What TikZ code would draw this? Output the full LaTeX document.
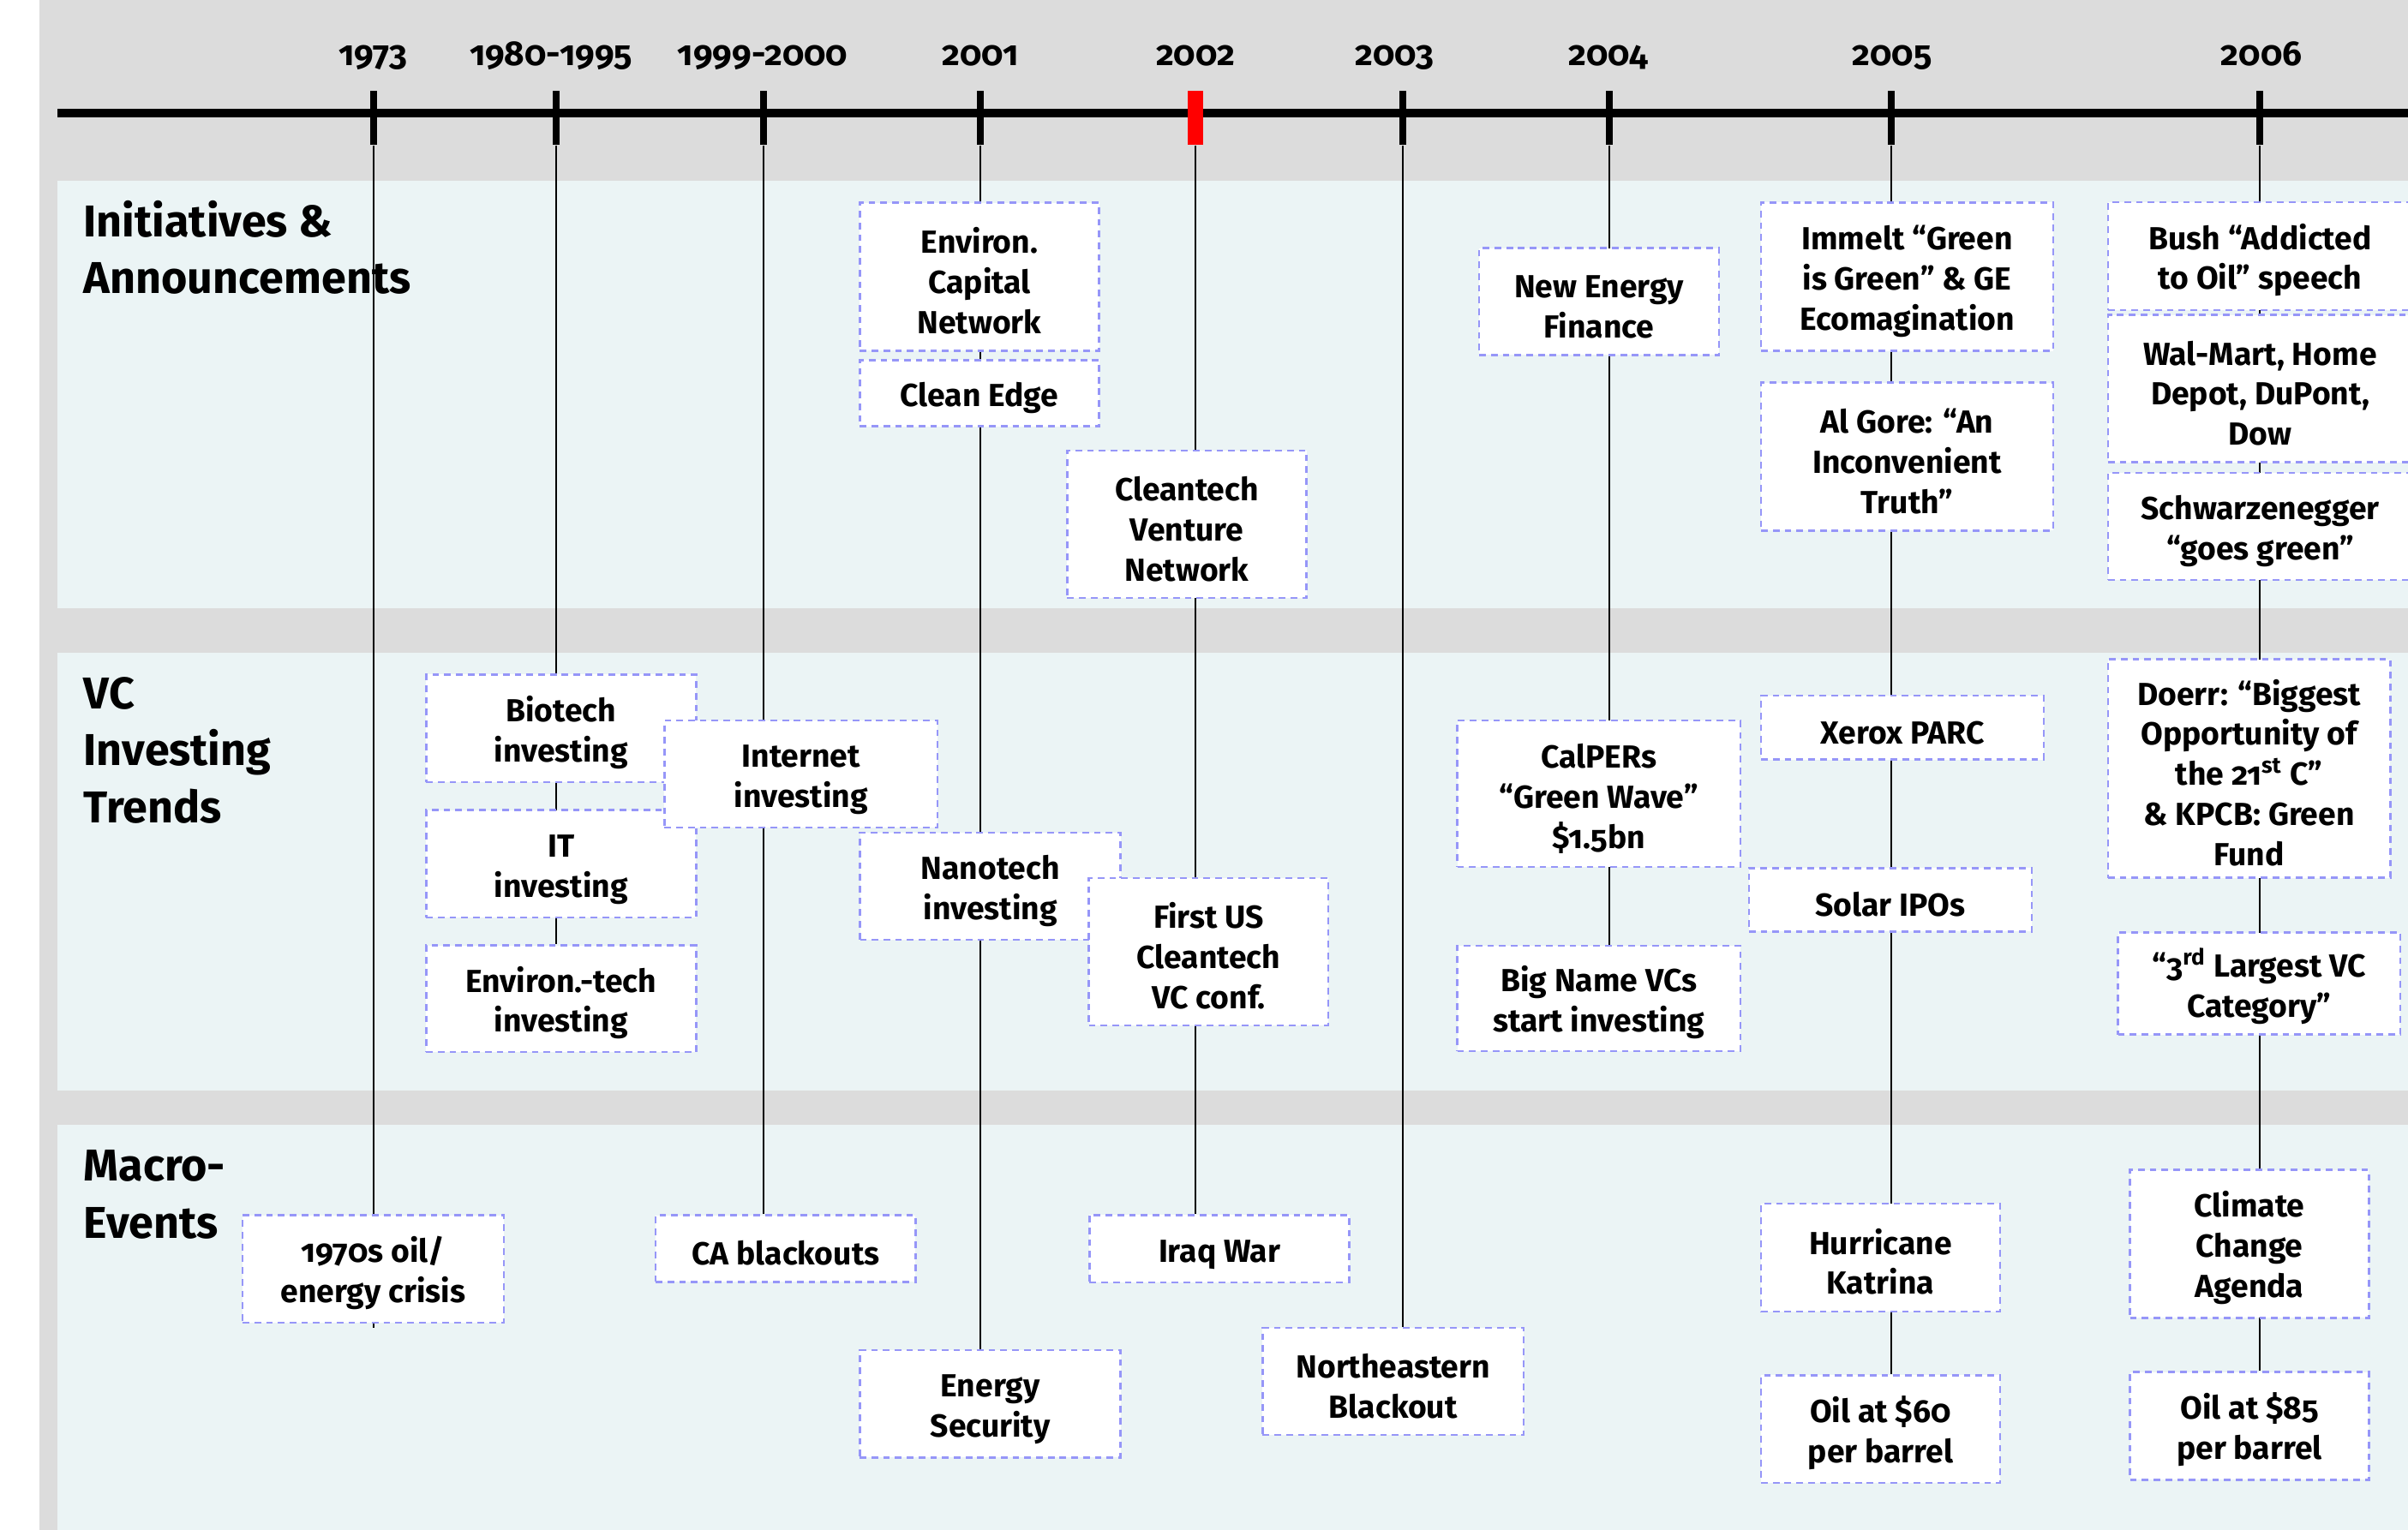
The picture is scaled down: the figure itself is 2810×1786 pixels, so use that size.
\documentclass[tikz,border=0pt]{standalone}
\usepackage{fontspec}
\setmainfont{Fira Sans}[Numbers=OldStyle]
\usetikzlibrary{calc}
\definecolor{bggray}{RGB}{220,220,220}
\definecolor{panelbg}{RGB}{235,244,245}
\definecolor{boxline}{RGB}{150,150,248}
\newcommand\boxstrut{\rule{0pt}{11.2pt}}
\pgfdeclarelayer{back}
\pgfdeclarelayer{links}
\pgfsetlayers{back,links,main}
\begin{document}
\begin{tikzpicture}[x=0.01cm,y=-0.01cm,
  evbox/.style={draw=boxline, fill=white, line width=0.7pt, dash pattern=on 2.2pt off 1.7pt,
    align=center, inner sep=0pt, font=\fontsize{10.6}{13.3}\selectfont\bfseries},
  tickmark/.style={fill=black, inner sep=0pt, minimum width=0.08cm, minimum height=0.63cm},
  redtick/.style={tickmark, fill=red, minimum width=0.185cm},
  conn/.style={line width=0.55pt, black},
  timeline/.style={line width=2.6pt, black},
  yearlbl/.style={font=\fontsize{11.5}{13}\selectfont\bfseries, anchor=base, inner sep=0pt},
  sectlbl/.style={font=\fontsize{14.8}{18.8}\selectfont\bfseries, anchor=base west, align=left, inner sep=0pt}]

\useasboundingbox (0,0) rectangle (2810,1786);
\begin{pgfonlayer}{back}
\fill[white] (0,0) rectangle (2810,1786);
\fill[bggray] (46,0) rectangle (2810,1786);
\fill[panelbg] (67,211) rectangle (2810,710);
\fill[panelbg] (67,762) rectangle (2810,1273);
\fill[panelbg] (67,1313) rectangle (2810,1786);
\end{pgfonlayer}

% timeline
\coordinate (tlstart) at (67,132);
\coordinate (tlend) at (2840,132);
\draw[timeline] (tlstart) -- (tlend);

% ticks
\node[tickmark] (k1973) at (436,137.5) {};
\node[tickmark] (k1980) at (649,137.5) {};
\node[tickmark] (k1999) at (891,137.5) {};
\node[tickmark] (k2001) at (1144,137.5) {};
\node[redtick]  (k2002) at (1395,137.5) {};
\node[tickmark] (k2003) at (1637,137.5) {};
\node[tickmark] (k2004) at (1878,137.5) {};
\node[tickmark] (k2005) at (2207,137.5) {};
\node[tickmark] (k2006) at (2637,137.5) {};

% year labels
\node[yearlbl] (y1973) at (435,77) {1973};
\node[yearlbl] (y1980) at (643,77) {1980-1995};
\node[yearlbl] (y1999) at (890,77) {1999-2000};
\node[yearlbl] (y2001) at (1144,77) {2001};
\node[yearlbl] (y2002) at (1395,77) {2002};
\node[yearlbl] (y2003) at (1627,77) {2003};
\node[yearlbl] (y2004) at (1877,77) {2004};
\node[yearlbl] (y2005) at (2208,77) {2005};
\node[yearlbl] (y2006) at (2639,77) {2006};

% section labels (anchor at the baseline of the last line)
\node[sectlbl] (hinit) at (97,343) {Initiatives \&\\Announcements};
\node[sectlbl] (hvc) at (97,960) {VC\\Investing\\Trends};
\node[sectlbl] (hmacro) at (97,1445) {Macro-\\Events};

% --- Initiatives & Announcements ---
\node[evbox, minimum width=2.79cm, minimum height=1.726cm] (envcap) at (1143,323) {\boxstrut Environ.\\Capital\\Network};
\node[evbox, minimum width=2.79cm, minimum height=0.77cm] (cleanedge) at (1143,459) {\boxstrut Clean Edge};
\node[evbox, minimum width=2.79cm, minimum height=1.72cm] (ctvn) at (1385,612) {\boxstrut Cleantech\\Venture\\Network};
\node[evbox, minimum width=2.795cm, minimum height=1.245cm] (nef) at (1866,352) {\boxstrut New Energy\\Finance};
\node[evbox, minimum width=3.405cm, minimum height=1.73cm] (immelt) at (2225.5,323) {\boxstrut Immelt “Green\\is Green” \& GE\\Ecomagination};
\node[evbox, minimum width=3.405cm, minimum height=1.725cm] (gore) at (2225.5,533) {\boxstrut Al Gore: “An\\Inconvenient\\Truth”};
\node[evbox, minimum width=3.55cm, minimum height=1.255cm] (bush) at (2637.5,299) {\boxstrut Bush “Addicted\\to Oil” speech};
\node[evbox, minimum width=3.55cm, minimum height=1.718cm] (walmart) at (2637.5,453.6) {\boxstrut Wal-Mart, Home\\Depot, DuPont,\\Dow};
\node[evbox, minimum width=3.55cm, minimum height=1.252cm] (schwarz) at (2637.5,614.4) {\boxstrut Schwarzenegger\\“goes green”};

% --- VC Investing Trends ---
\node[evbox, minimum width=3.148cm, minimum height=1.256cm] (biotech) at (654.8,850.3) {\boxstrut Biotech\\investing};
\node[evbox, minimum width=3.148cm, minimum height=1.25cm] (itinv) at (654.8,1008.2) {\boxstrut IT\\investing};
\node[evbox, minimum width=3.148cm, minimum height=1.245cm] (envtech) at (654.8,1165.9) {\boxstrut Environ.-tech\\investing};
\node[evbox, minimum width=3.184cm, minimum height=1.25cm] (internet) at (934.7,903.3) {\boxstrut Internet\\investing};
\node[evbox, minimum width=3.04cm, minimum height=1.25cm] (nanotech) at (1155.6,1034.5) {\boxstrut Nanotech\\investing};
\node[evbox, minimum width=2.793cm, minimum height=1.72cm] (firstus) at (1410.4,1111) {\boxstrut First US\\Cleantech\\VC conf.};
\node[evbox, minimum width=3.30cm, minimum height=1.71cm] (calpers) at (1865.7,926.7) {\boxstrut CalPERs\\“Green Wave”\\\$1.5bn};
\node[evbox, minimum width=3.30cm, minimum height=1.23cm] (bigname) at (1865.7,1165.5) {\boxstrut Big Name VCs\\start investing};
\node[evbox, minimum width=3.296cm, minimum height=0.746cm] (xerox) at (2220.1,849.2) {\boxstrut Xerox PARC};
\node[evbox, minimum width=3.30cm, minimum height=0.74cm] (solar) at (2205.9,1050.4) {\boxstrut Solar IPOs};
\node[evbox, minimum width=3.295cm, minimum height=2.548cm] (doerr) at (2624.6,897.2) {\boxstrut Doerr: “Biggest\\Opportunity of\\the 21\textsuperscript{st} C”\\\& KPCB: Green\\Fund};
\node[evbox, minimum width=3.29cm, minimum height=1.19cm] (third) at (2636.2,1148.1) {\boxstrut “3\textsuperscript{rd} Largest VC\\Category”};

% --- Macro-Events ---
\node[evbox, minimum width=3.046cm, minimum height=1.252cm] (crisis) at (435.5,1481.2) {\boxstrut 1970s oil/\\energy crisis};
\node[evbox, minimum width=3.03cm, minimum height=0.777cm] (cablack) at (916.8,1457.5) {\boxstrut CA blackouts};
\node[evbox, minimum width=3.042cm, minimum height=1.253cm] (energysec) at (1155.5,1638.7) {\boxstrut Energy\\Security};
\node[evbox, minimum width=3.03cm, minimum height=0.784cm] (iraq) at (1423,1457.5) {\boxstrut Iraq War};
\node[evbox, minimum width=3.043cm, minimum height=1.25cm] (neblack) at (1625.7,1612.5) {\boxstrut Northeastern\\Blackout};
\node[evbox, minimum width=2.786cm, minimum height=1.26cm] (katrina) at (2194.4,1468) {\boxstrut Hurricane\\Katrina};
\node[evbox, minimum width=2.786cm, minimum height=1.257cm] (oil60) at (2194.4,1668.2) {\boxstrut Oil at \$60\\per barrel};
\node[evbox, minimum width=2.786cm, minimum height=1.726cm] (climate) at (2625,1452) {\boxstrut Climate\\Change\\Agenda};
\node[evbox, minimum width=2.786cm, minimum height=1.256cm] (oil85) at (2625,1664.5) {\boxstrut Oil at \$85\\per barrel};

% --- connectors (under the boxes) ---
\coordinate (e1973) at (436,1550);
\begin{pgfonlayer}{links}
\draw[conn] (k1973.south) -- (e1973);
\draw[conn] (k1980.south) -- (k1980.south |- envtech.north);
\draw[conn] (k1999.south) -- (k1999.south |- cablack.north);
\draw[conn] (k2001.south) -- (k2001.south |- energysec.north);
\draw[conn] (k2002.south) -- (k2002.south |- iraq.north);
\draw[conn] (k2003.south) -- (k2003.south |- neblack.north);
\draw[conn] (k2004.south) -- (k2004.south |- bigname.north);
\draw[conn] (k2005.south) -- (k2005.south |- oil60.north);
\draw[conn] (k2006.south) -- (k2006.south |- oil85.north);
\end{pgfonlayer}
\end{tikzpicture}
\end{document}
